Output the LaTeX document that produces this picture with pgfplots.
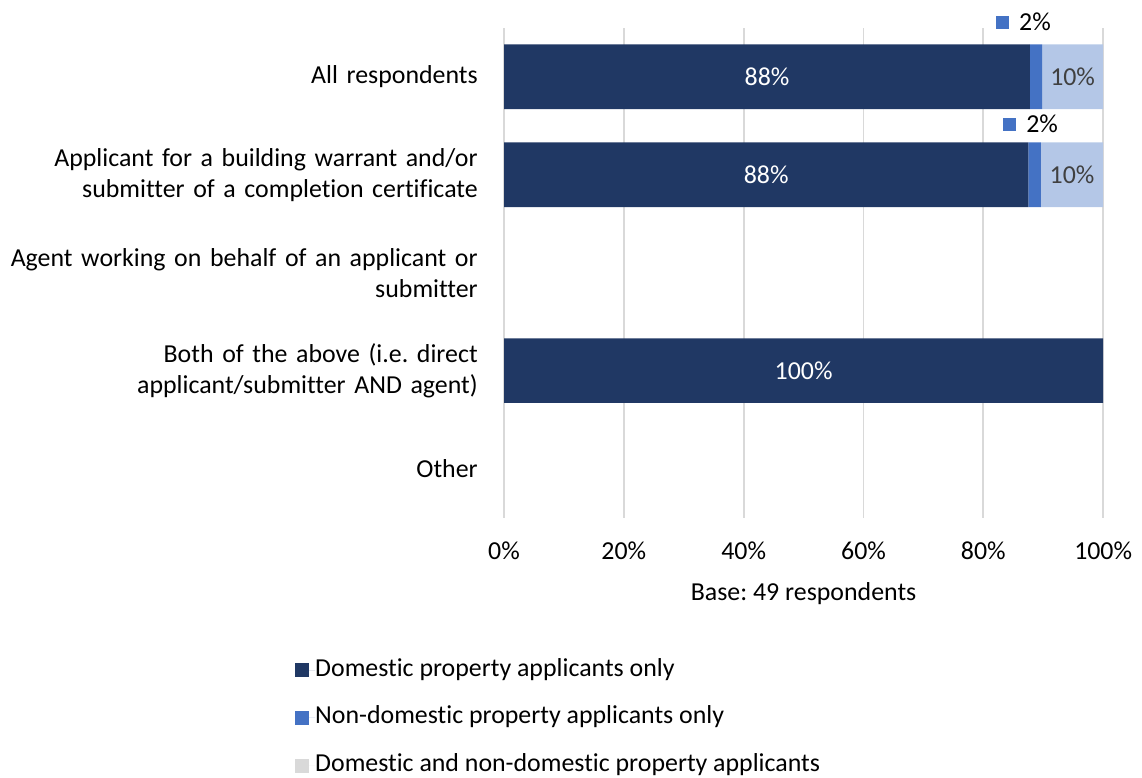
\documentclass[border=0pt]{standalone}
\usepackage{pgfplots}
\pgfplotsset{compat=1.18}
\usepackage{pgfplotstable}
\usepackage{fontspec}
\setmainfont{Carlito}[Ligatures=NoCommon]
\definecolor{navy}{HTML}{203864}
\definecolor{mblue}{HTML}{4472C4}
\definecolor{lblue}{HTML}{B4C7E7}
\definecolor{lgray}{HTML}{D9D9D9}
\definecolor{gtext}{HTML}{404040}
\pgfplotstableread{
y dom non both
4 87.76 2.04 10.20
3 87.50 2.10 10.40
1 100 0 0
}\datatable
\begin{document}
\frenchspacing
\fontsize{13}{15.6}\selectfont
\begin{tikzpicture}
\begin{axis}[
  scale only axis, width=301pt, height=246pt,
  xbar stacked, bar width=32.5pt,
  xmin=0, xmax=100, ymin=-0.5, ymax=4.5,
  clip=false,
  xtick={0,20,...,100},
  xticklabel={\pgfmathprintnumber{\tick}\%},
  /pgf/number format/assume math mode=true,
  xticklabel style={anchor=base, inner sep=0pt, yshift=-21pt},
  ytick={0,1,2,3,4},
  yticklabels={Other,
    {Both of the above (i.e. direct\\applicant/submitter AND agent)},
    {Agent working on behalf of an applicant or\\submitter},
    {Applicant for a building warrant and/or\\submitter of a completion certificate},
    All respondents},
  yticklabel style={align=right, text width=240pt, inner sep=0pt, xshift=-13pt},
  axis line style={draw=none},
  major tick length=0pt,
  xmajorgrids, grid style={lgray, line width=0.9pt},
  xlabel={Base: 49 respondents},
  xlabel style={at={(axis description cs:0.5,0)}, anchor=base, yshift=-41.5pt, inner sep=0pt},
  legend cell align=left,
  legend image code/.code={\path (0pt,0pt) -- (10pt,0pt); \fill[#1] (0pt,-3.5pt) rectangle (7pt,3.5pt);},
  legend style={at={(axis description cs:-0.349,0)}, anchor=north west, yshift=-70.5pt,
    draw=none, fill=none, inner sep=0pt, row sep=12pt, legend columns=1,
    nodes={inner sep=0pt, text height=9pt, text depth=3pt, anchor=west}},
]
\addplot[fill=navy, draw=none] table[x=dom, y=y] {\datatable};
\addlegendentry{Domestic property applicants only}
\addplot[fill=mblue, draw=none] table[x=non, y=y] {\datatable};
\addlegendentry{Non-domestic property applicants only}
\addplot[fill=lblue, draw=none, legend image post style={fill=lgray}] table[x=both, y=y] {\datatable};
\addlegendentry{Domestic and non-domestic property applicants}

\coordinate (a1) at (axis cs:43.9,4);
\coordinate (a2) at (axis cs:94.9,4);
\coordinate (a3) at (axis cs:86.7,4.56);
\coordinate (b1) at (axis cs:43.75,3);
\coordinate (b2) at (axis cs:94.8,3);
\coordinate (b3) at (axis cs:87.9,3.52);
\coordinate (c1) at (axis cs:50,1);
\path (rel axis cs:-0.8322,-0.5244) rectangle (rel axis cs:1.0648,1.0569);
\end{axis}
\node[text=white] at (a1) {88\%};
\node[text=gtext] at (a2) {10\%};
\node at (a3) {\textcolor{mblue}{\raisebox{1pt}{\rule{6.5pt}{6.5pt}}}\hspace{5pt}2\%};
\node[text=white] at (b1) {88\%};
\node[text=gtext] at (b2) {10\%};
\node at (b3) {\textcolor{mblue}{\raisebox{1pt}{\rule{6.5pt}{6.5pt}}}\hspace{5pt}2\%};
\node[text=white] at (c1) {100\%};
\end{tikzpicture}
\end{document}
